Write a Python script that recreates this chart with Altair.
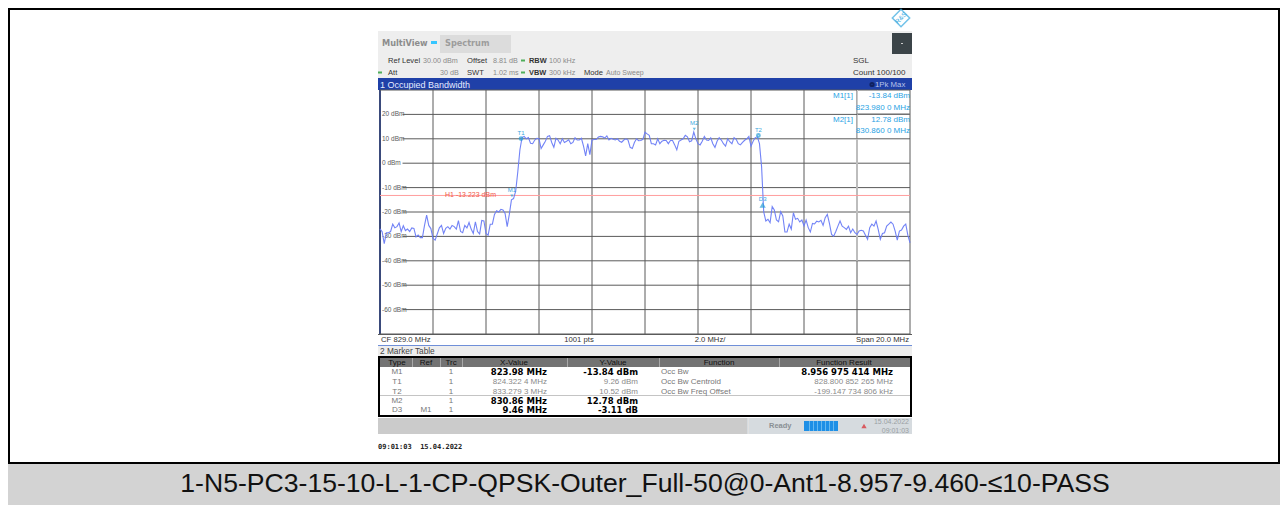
import altair as alt
import pandas as pd

# --- series ---
START_MHZ = 819.0
STEP_MHZ = 0.08
trace_dbm = [
 -26.9,-28.1,-33.0,-28.5,-28.5,-28.0,-25.0,-26.5,-26.0,-24.5,-28.0,-25.6,-27.6,-27.0,-28.0,-26.5,-26.7,-30.2,-29.4,-30.5,
 -30.5,-25.5,-21.3,-25.5,-26.8,-30.8,-31.5,-29.0,-26.5,-25.5,-28.8,-26.7,-26.0,-27.0,-25.5,-26.0,-27.0,-23.5,-28.0,-28.5,
 -25.5,-26.5,-24.3,-27.0,-28.8,-24.0,-28.0,-29.0,-23.5,-23.7,-28.8,-29.5,-25.0,-25.0,-21.0,-19.5,-20.0,-18.9,-19.2,-20.6,
 -26.0,-21.0,-15.0,-14.5,-11.5,-3.5,5.5,10.5,11.0,10.0,10.5,8.2,8.0,9.5,10.2,10.0,6.0,7.5,9.0,11.0,
 11.3,8.5,6.5,10.2,9.5,8.0,10.0,8.5,9.0,9.6,8.0,8.5,10.4,9.5,9.5,10.2,7.0,3.0,8.0,3.5,
 9.5,9.7,9.7,10.7,11.0,10.8,10.3,11.2,9.5,10.2,9.8,9.5,10.0,9.0,8.6,9.5,10.0,9.5,6.5,6.0,
 8.5,10.0,9.2,9.3,9.8,12.7,12.0,11.4,8.0,8.0,7.5,10.0,8.0,9.0,9.4,9.3,8.0,9.3,9.3,7.5,
 5.5,9.0,9.5,10.0,11.4,10.8,8.8,9.2,12.78,10.0,8.0,7.5,9.0,11.0,9.5,9.3,10.4,8.0,6.5,9.0,
 10.5,9.5,8.0,7.0,10.0,8.8,8.0,10.5,9.8,8.0,7.5,8.5,9.4,10.0,11.0,7.0,9.0,10.5,10.8,8.0,
 -1.5,-20.0,-23.7,-23.0,-24.4,-17.8,-19.2,-23.3,-24.0,-19.9,-21.6,-28.2,-28.2,-25.0,-27.0,-20.3,-23.0,-22.6,-24.1,-23.3,
 -25.7,-23.3,-26.4,-28.2,-24.7,-24.9,-23.8,-24.1,-23.4,-25.5,-22.3,-21.0,-24.7,-29.2,-29.9,-28.0,-25.8,-23.7,-25.8,-26.4,
 -27.1,-25.8,-28.5,-27.0,-28.5,-29.2,-27.8,-27.5,-27.8,-29.5,-31.2,-26.4,-25.0,-25.8,-23.7,-27.1,-31.2,-28.8,-28.5,-25.8,
 -25.0,-24.1,-25.0,-27.8,-31.5,-27.8,-27.4,-25.8,-25.0,-29.6,-32.6,
]
marker_names = ["M1", "T1", "T2", "M2", "D3"]
marker_mhz = [823.98, 824.3224, 833.2793, 830.86, 833.44]
marker_dbm = [-13.84, 9.26, 10.52, 12.78, -16.95]
grid_mhz = [819, 821, 823, 825, 827, 829, 831, 833, 835, 837, 839]
grid_dbm = [30, 20, 10, 0, -10, -20, -30, -40, -50, -60, -70]
tick_dbm = [20, 10, 0, -10, -20, -30, -40, -50, -60]
threshold_dbm = -13.223
CAPTION = "1-N5-PC3-15-10-L-1-CP-QPSK-Outer_Full-50@0-Ant1-8.957-9.460-\u226410-PASS"

# --- scales: the analyser screen occupies part of the page ---
W, H = 1272, 497
PX_PER_MHZ = 26.5
PX_PER_DB = 2.44
x_scale = alt.Scale(domain=[819 - (380 - 8) / PX_PER_MHZ, 819 + (8 + W - 380) / PX_PER_MHZ], range=[0, W], nice=False, zero=False)
y_scale = alt.Scale(domain=[30 + (90 - 8) / PX_PER_DB, 30 - (8 + H - 90) / PX_PER_DB], range=[0, H], nice=False, zero=False)
X = lambda f: alt.X(f, type="quantitative", scale=x_scale, axis=None)
Y = lambda f: alt.Y(f, type="quantitative", scale=y_scale, axis=None)

layers = []

def box(x0, y0, x1, y1, fill, stroke=None, sw=0):
    kw = dict(fill=fill)
    if stroke:
        kw.update(stroke=stroke, strokeWidth=sw)
    layers.append(alt.Chart().mark_rect(**kw).encode(
        x=alt.value(x0 - 8), x2=alt.value(x1 - 8), y=alt.value(y0 - 8), y2=alt.value(y1 - 8)))

def txt(s, x, y, color="#555555", size=7.5, align="left", weight="normal", font="Liberation Sans"):
    layers.append(alt.Chart().mark_text(text=s, align=align, baseline="middle", color=color,
                                        fontSize=size, fontWeight=weight, font=font).encode(
        x=alt.value(x - 8), y=alt.value(y - 8)))

# page frame and caption
box(8, 8, 1280, 10, "#000000")
box(8, 8, 10, 505, "#000000")
box(1278, 8, 1280, 505, "#000000")
box(8, 463, 1280, 505, "#d3d3d3")
box(8, 462, 1280, 464, "#000000")
txt(CAPTION, 645, 484, "#111111", 26.6, "center", font="Liberation Sans")

# logo
layers.append(alt.Chart().mark_point(shape="diamond", size=300, stroke="#35a9e0", strokeWidth=1.5, filled=False).encode(
    x=alt.value(901 - 8), y=alt.value(18 - 8)))
layers.append(alt.Chart().mark_text(text="R&S", angle=315, fontSize=6.5, color="#35a9e0", font="Liberation Sans", baseline="middle", align="center").encode(
    x=alt.value(901 - 8), y=alt.value(18 - 8)))

# instrument header
box(378, 31, 912, 78, "#eeeeee")
box(440, 35, 511, 53, "#dcdcdc")
box(892, 33, 912, 54, "#3b4448")
box(431, 41, 437, 44, "#36c6ff")
box(901, 43, 903, 44, "#cccccc")
txt("MultiView", 382, 44, "#8c8c8c", 8.2, weight="bold", font="DejaVu Sans")
txt("Spectrum", 445, 44, "#9c9c9c", 8.2, weight="bold", font="DejaVu Sans")
dark, grey = "#333333", "#8a8a8a"
for s, x, y, c, w, sz in [
    ("Ref Level", 388, 60.5, dark, "normal", 7.6), ("30.00 dBm", 423, 60.5, grey, "normal", 7.2),
    ("Offset", 467, 60.5, dark, "normal", 7.6), ("8.81 dB", 493, 60.5, grey, "normal", 7.2),
    ("RBW", 529, 60.5, dark, "bold", 7.4), ("100 kHz", 549, 60.5, grey, "normal", 7.2),
    ("SGL", 853, 60.5, dark, "normal", 8),
    ("Att", 388, 72.5, dark, "normal", 7.6), ("30 dB", 440, 72.5, grey, "normal", 7.2),
    ("SWT", 467, 72.5, dark, "normal", 7.6), ("1.02 ms", 493, 72.5, grey, "normal", 7.2),
    ("VBW", 529, 72.5, dark, "bold", 7.4), ("300 kHz", 549, 72.5, grey, "normal", 7.2),
    ("Mode", 584, 72.5, dark, "normal", 7.6), ("Auto Sweep", 606, 72.5, grey, "normal", 7),
    ("Count 100/100", 853, 72.5, dark, "normal", 8),
]:
    txt(s, x, y, c, sz, weight=w)
for x, y in [(523, 60.5), (380, 72.5), (523, 72.5)]:
    box(x - 2, y - 1, x + 2, y + 1, "#4fae5a")

# title bar
box(378, 78, 912, 90, "#1f40a8")
txt("1 Occupied Bandwidth", 380, 84.5, "#e6ecff", 9)
txt("1Pk Max", 875, 84.5, "#b9c4e8", 7.8)
layers.append(alt.Chart().mark_point(shape="circle", size=10, stroke="#0b1440", filled=False).encode(
    x=alt.value(872 - 8), y=alt.value(84.5 - 8)))

# plot frame and grid
box(379, 90, 381, 345, "#1a3a9c")
grid_color = "#5a5a5a"
layers.append(alt.Chart(pd.DataFrame({"f": grid_mhz})).mark_rule(color=grid_color, strokeWidth=1).encode(
    x=X("f"), y=alt.Y(datum=30, scale=y_scale, axis=None), y2=alt.Y2(datum=-70)))
grid_rows = pd.DataFrame({"d": grid_dbm})
grid_rows["start"] = [819 if d in (30, -70) else 819.85 for d in grid_dbm]
layers.append(alt.Chart(grid_rows).mark_rule(color=grid_color, strokeWidth=1).encode(
    y=Y("d"), x=X("start"), x2=alt.X2(datum=839)))
layers.append(alt.Chart(pd.DataFrame({"f": [837]})).mark_rule(color="#bdbdbd", strokeWidth=2).encode(
    x=X("f"), y=alt.Y(datum=10, scale=y_scale, axis=None), y2=alt.Y2(datum=-40)))
layers.append(alt.Chart(pd.DataFrame({"d": tick_dbm, "l": [f"{d} dBm" for d in tick_dbm]})).mark_text(
    align="left", baseline="middle", color="#5a5a5a", fontSize=6.5, font="Liberation Sans", dx=0).encode(
    x=alt.value(382 - 8), y=Y("d"), text="l:N"))

# threshold
layers.append(alt.Chart(pd.DataFrame({"d": [threshold_dbm]})).mark_rule(color="#ff9d9d", strokeWidth=1).encode(
    y=Y("d"), x=alt.X(datum=819, scale=x_scale, axis=None), x2=alt.X2(datum=839)))
layers.append(alt.Chart(pd.DataFrame({"d": [threshold_dbm]})).mark_text(
    text="H1 -13.223 dBm", align="left", baseline="middle", color="#f0584a", fontSize=7, font="Liberation Sans").encode(
    x=alt.value(445 - 8), y=Y("d")))

# trace
trace = pd.DataFrame({"f": [START_MHZ + i * STEP_MHZ for i in range(len(trace_dbm))], "d": trace_dbm})
layers.append(alt.Chart(trace).mark_line(color="#6a7cf5", strokeWidth=1.1, opacity=0.95, interpolate="linear").encode(
    x=X("f"), y=Y("d")))

# markers
mk = pd.DataFrame({"n": marker_names, "f": marker_mhz, "d": marker_dbm})
def marker(name, shape, filled, size, off, dy):
    row = mk[mk.n == name]
    layers.append(alt.Chart(row).mark_point(shape=shape, size=size, filled=filled, color="#2a9fd8", yOffset=off).encode(x=X("f"), y=Y("d")))
    layers.append(alt.Chart(row).mark_text(align="center", baseline="middle", color="#3aa7de", fontSize=6, font="Liberation Sans", dy=dy).encode(x=X("f"), y=Y("d"), text="n:N"))
marker("M1", "triangle-down", True, 10, -1, -7)
marker("M2", "triangle-down", True, 10, -3, -9)
marker("T1", "circle", False, 8, -2, -8)
marker("T2", "circle", False, 8, -2, -8)
marker("D3", "triangle-up", False, 8, 1, -6)

# readout panel
blue = "#2aa3e4"
box(857, 90, 858, 138, "#c9c9c9")
box(857, 113.5, 910, 114.5, "#7a7a7a")
for s, x, y, a in [
    ("M1[1]", 833, 96, "left"), ("-13.84 dBm", 910, 96, "right"), ("823.980 0 MHz", 910, 108, "right"),
    ("M2[1]", 833, 120, "left"), ("12.78 dBm", 910, 120, "right"), ("830.860 0 MHz", 910, 131, "right"),
]:
    txt(s, x, y, blue, 8, a)

# status row
box(378, 334, 912, 345, "#ffffff")
box(378, 345, 912, 346, "#6f8fd8")
box(378, 334, 912, 335, "#5a5a5a")
for s, x, a in [("CF 829.0 MHz", 381, "left"), ("1001 pts", 579, "center"), ("2.0 MHz/", 710, "center"), ("Span 20.0 MHz", 909, "right")]:
    txt(s, x, 340, "#333333", 7.7, a)

# marker table
box(378, 346, 912, 417, "#eeeeee")
box(379, 357, 911, 416, "#ffffff", "#000000", 2)
box(380, 358, 910, 367, "#737373")
for x in [412, 440, 462, 567, 659, 779]:
    box(x, 358, x + 1, 367, "#a8a8a8")
box(380, 395, 910, 396, "#c4c4c4")
txt("2 Marker Table", 380, 352, "#444444", 8.3)
for s, x in [("Type", 397), ("Ref", 426), ("Trc", 451), ("X-Value", 514), ("Y-Value", 613), ("Function", 719), ("Function Result", 844)]:
    txt(s, x, 362.5, "#111111", 8, "center")
rows = [
    ("M1", "", "823.98 MHz", "-13.84 dBm", "Occ Bw", "8.956 975 414 MHz", True, 371.5),
    ("T1", "", "824.322 4 MHz", "9.26 dBm", "Occ Bw Centroid", "828.800 852 265 MHz", False, 381.5),
    ("T2", "", "833.279 3 MHz", "10.52 dBm", "Occ Bw Freq Offset", "-199.147 734 806 kHz", False, 391.5),
    ("M2", "", "830.86 MHz", "12.78 dBm", "", "", True, 400.5),
    ("D3", "M1", "9.46 MHz", "-3.11 dB", "", "", True, 409.5),
]
for typ, ref, xv, yv, fn, res, strong, y in rows:
    txt(typ, 397, y, "#777777", 8, "center")
    if ref:
        txt(ref, 426, y, "#777777", 8, "center")
    txt("1", 451, y, "#777777", 8, "center")
    w, c, fnt, sz = ("bold", "#000000", "DejaVu Sans", 8.5) if strong else ("normal", "#8a8a8a", "Liberation Sans", 8)
    txt(xv, 547, y, c, sz, "right", w, fnt)
    txt(yv, 638, y, c, sz, "right", w, fnt)
    if fn:
        txt(fn, 661, y, "#777777", 8)
        wr = "bold" if res.startswith("8.956") else "normal"
        txt(res, 893, y, "#000000" if wr == "bold" else "#8a8a8a", 8.5 if wr == "bold" else 8, "right", wr,
            "DejaVu Sans" if wr == "bold" else "Liberation Sans")

# footer
box(378, 418, 912, 434, "#d6dbdf")
box(378, 418, 747, 434, "#cbcbcb")
box(748, 418, 749, 434, "#e0e0e0")
txt("Ready", 769, 426, "#8a8f94", 7.5, weight="bold")
box(804, 421, 838, 431, "#1e8fe6")
for x in [809, 813, 817, 821, 825, 829, 833]:
    box(x, 421, x + 1, 431, "#66b8f0")
layers.append(alt.Chart().mark_point(shape="triangle-up", size=28, filled=True, color="#d8242a").encode(
    x=alt.value(864 - 8), y=alt.value(426 - 8)))
txt("15.04.2022", 909, 422, "#9a9fa4", 7, "right")
txt("09:01:03", 909, 431, "#9a9fa4", 7, "right")

txt("09:01:03\u00a0\u00a015.04.2022", 378, 447, "#222222", 7, weight="bold", font="DejaVu Sans Mono")

chart = alt.layer(*layers).properties(
    width=W, height=H, padding=0, autosize=alt.AutoSizeParams(type="none"), background="#ffffff"
).configure_view(stroke=None)

chart.save("out.html", embed_options={"renderer": "svg", "actions": False})
